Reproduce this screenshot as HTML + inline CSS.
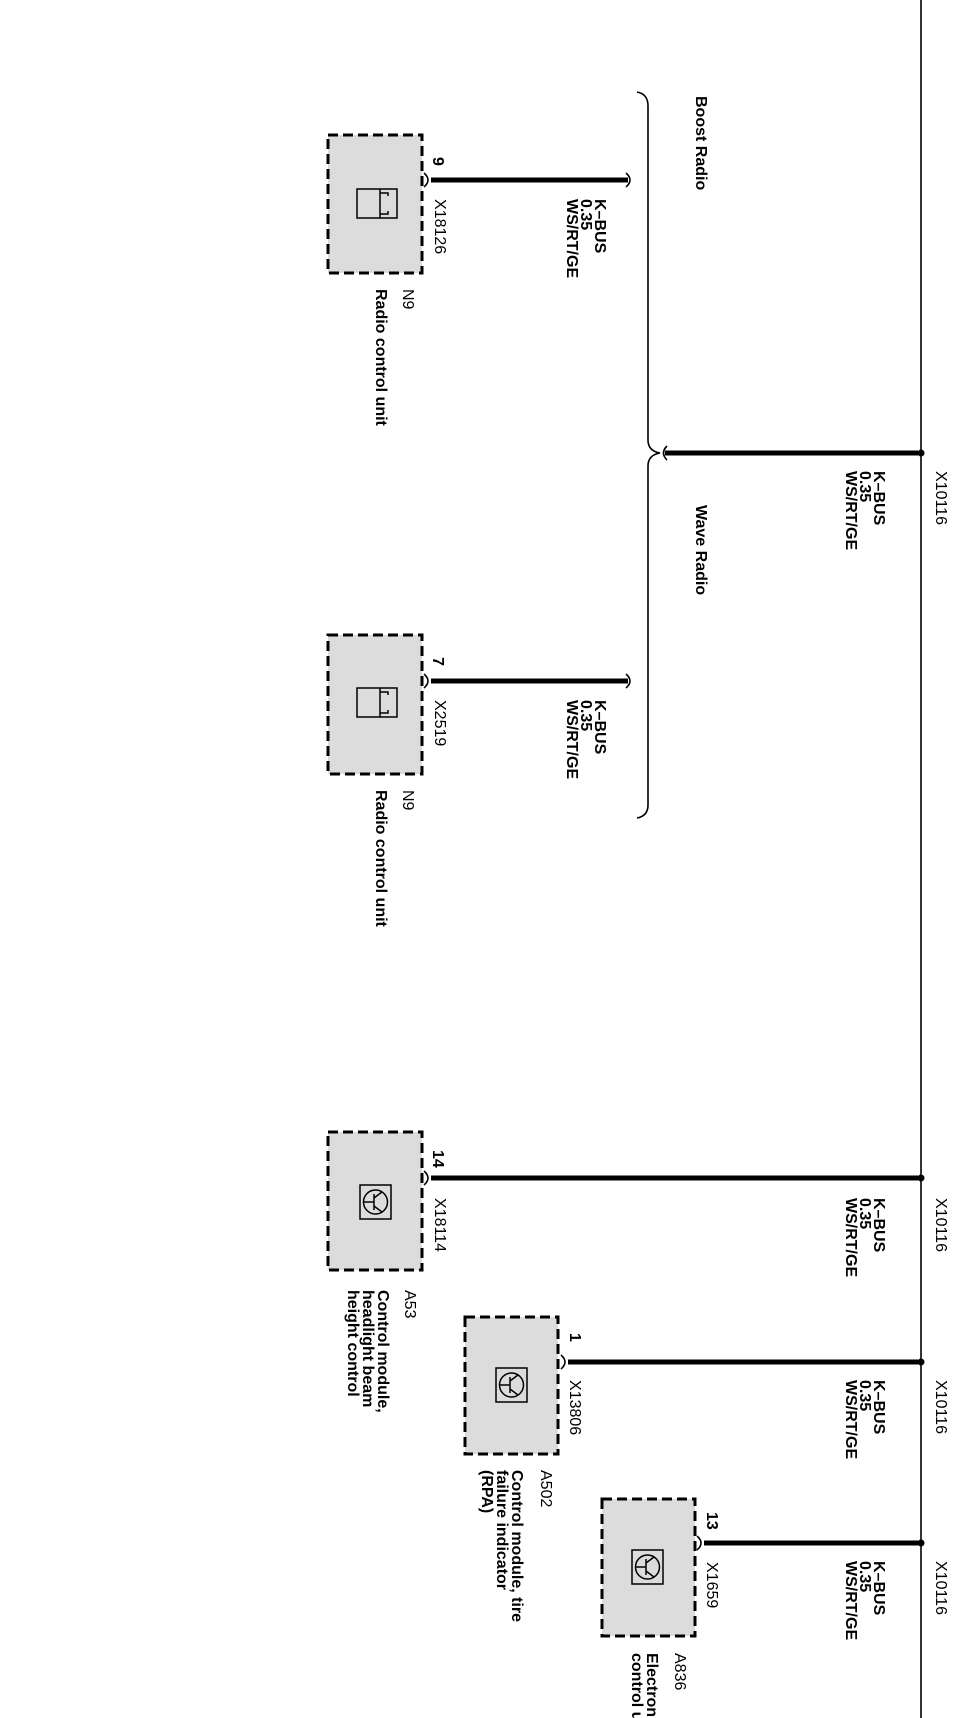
<!DOCTYPE html>
<html><head><meta charset="utf-8"><style>
html,body{margin:0;padding:0;background:#fff;}
svg{display:block;}
text{font-family:"Liberation Sans",Arial,sans-serif;font-size:16px;fill:#000;}
.b{font-weight:bold;}
</style></head><body>
<svg width="962" height="1718" viewBox="0 0 962 1718" xmlns="http://www.w3.org/2000/svg">
<line x1="921" y1="0" x2="921" y2="1718" stroke="#000" stroke-width="1.6"/>
<circle cx="921" cy="453" r="3.5"/>
<circle cx="921" cy="1178" r="3.5"/>
<circle cx="921" cy="1362" r="3.5"/>
<circle cx="921" cy="1543" r="3.5"/>

<path d="M637,92 Q648,94 648,106 L648,440 Q648,451 660,453 Q648,455 648,466 L648,805 Q648,816 637,818" fill="none" stroke="#000" stroke-width="1.6"/>

<g stroke="#000" stroke-width="5" fill="none">
<line x1="665" y1="453" x2="918" y2="453"/>
<line x1="431" y1="180" x2="628" y2="180"/>
<line x1="431" y1="681" x2="628" y2="681"/>
<line x1="431" y1="1178" x2="918" y2="1178"/>
<line x1="568" y1="1362" x2="918" y2="1362"/>
<line x1="704" y1="1543" x2="918" y2="1543"/>
</g>
<g stroke="#000" stroke-width="1.6" fill="none">
<path d="M667,446 Q660,453 667,460"/>
<path d="M626,173 Q634,180 626,187"/>
<path d="M626,674 Q634,681 626,688"/>
<path d="M424,173 Q432,180 424,187"/>
<path d="M424,674 Q432,681 424,688"/>
<path d="M424,1171 Q432,1178 424,1185"/>
<path d="M561,1355 Q569,1362 561,1369"/>
<path d="M697,1536 Q705,1543 697,1550"/>
</g>

<g fill="#dcdcdc" stroke="#000" stroke-width="3" stroke-dasharray="10,5">
<rect x="328" y="135" width="94" height="138"/>
<rect x="328" y="635" width="94" height="139"/>
<rect x="328" y="1132" width="94" height="138"/>
<rect x="465" y="1317" width="93" height="137"/>
<rect x="602" y="1499" width="93" height="137"/>
</g>

<g fill="none" stroke="#000" stroke-width="1.5">
<rect x="357" y="189" width="40" height="29"/>
<line x1="380" y1="189" x2="380" y2="218"/>
<path d="M380,193 L388,193 L388,196 M380,214 L388,214 L388,211"/>
<rect x="357" y="688" width="40" height="29"/>
<line x1="380" y1="688" x2="380" y2="717"/>
<path d="M380,692 L388,692 L388,695 M380,713 L388,713 L388,710"/>
</g>
<g fill="none" stroke="#000" stroke-width="1.5">
<g transform="translate(360,1185)">
<rect x="0" y="0" width="31" height="34"/>
<circle cx="15.5" cy="17" r="12"/>
<line x1="3.5" y1="17" x2="14" y2="17"/><line x1="14" y1="9" x2="14" y2="25"/>
<line x1="14" y1="13" x2="22" y2="7"/><line x1="14" y1="21" x2="22" y2="27"/>
</g>
<g transform="translate(496,1368)">
<rect x="0" y="0" width="31" height="34"/>
<circle cx="15.5" cy="17" r="12"/>
<line x1="3.5" y1="17" x2="14" y2="17"/><line x1="14" y1="9" x2="14" y2="25"/>
<line x1="14" y1="13" x2="22" y2="7"/><line x1="14" y1="21" x2="22" y2="27"/>
</g>
<g transform="translate(632,1550)">
<rect x="0" y="0" width="31" height="34"/>
<circle cx="15.5" cy="17" r="12"/>
<line x1="3.5" y1="17" x2="14" y2="17"/><line x1="14" y1="9" x2="14" y2="25"/>
<line x1="14" y1="13" x2="22" y2="7"/><line x1="14" y1="21" x2="22" y2="27"/>
</g>
</g>

<text transform="translate(936,471) rotate(90)">X10116</text>
<text transform="translate(936,1198) rotate(90)">X10116</text>
<text transform="translate(936,1380) rotate(90)">X10116</text>
<text transform="translate(936,1561) rotate(90)">X10116</text>

<g class="b">
<text transform="translate(874,471) rotate(90)">K–BUS</text>
<text transform="translate(860,471) rotate(90)">0.35</text>
<text transform="translate(846,471) rotate(90)">WS/RT/GE</text>
<text transform="translate(874,1198) rotate(90)">K–BUS</text>
<text transform="translate(860,1198) rotate(90)">0.35</text>
<text transform="translate(846,1198) rotate(90)">WS/RT/GE</text>
<text transform="translate(874,1380) rotate(90)">K–BUS</text>
<text transform="translate(860,1380) rotate(90)">0.35</text>
<text transform="translate(846,1380) rotate(90)">WS/RT/GE</text>
<text transform="translate(874,1561) rotate(90)">K–BUS</text>
<text transform="translate(860,1561) rotate(90)">0.35</text>
<text transform="translate(846,1561) rotate(90)">WS/RT/GE</text>
<text transform="translate(595,199) rotate(90)">K–BUS</text>
<text transform="translate(581,199) rotate(90)">0.35</text>
<text transform="translate(567,199) rotate(90)">WS/RT/GE</text>
<text transform="translate(595,700) rotate(90)">K–BUS</text>
<text transform="translate(581,700) rotate(90)">0.35</text>
<text transform="translate(567,700) rotate(90)">WS/RT/GE</text>

<text transform="translate(696,96) rotate(90)">Boost Radio</text>
<text transform="translate(696,505) rotate(90)">Wave Radio</text>

<text transform="translate(433,157) rotate(90)">9</text>
<text transform="translate(433,657) rotate(90)">7</text>
<text transform="translate(433,1150) rotate(90)">14</text>
<text transform="translate(570,1333) rotate(90)">1</text>
<text transform="translate(707,1512) rotate(90)">13</text>
</g>

<text transform="translate(435,199) rotate(90)">X18126</text>
<text transform="translate(435,700) rotate(90)">X2519</text>
<text transform="translate(435,1198) rotate(90)">X18114</text>
<text transform="translate(570,1380) rotate(90)">X13806</text>
<text transform="translate(707,1562) rotate(90)">X1659</text>

<text transform="translate(403,289) rotate(90)">N9</text>
<text class="b" transform="translate(376,289) rotate(90)">Radio control unit</text>
<text transform="translate(403,790) rotate(90)">N9</text>
<text class="b" transform="translate(376,790) rotate(90)">Radio control unit</text>

<text transform="translate(405,1290) rotate(90)">A53</text>
<text class="b" transform="translate(378,1290) rotate(90)">Control module,</text>
<text class="b" transform="translate(363,1290) rotate(90)">headlight beam</text>
<text class="b" transform="translate(348,1290) rotate(90)">height control</text>

<text transform="translate(541,1470) rotate(90)">A502</text>
<text class="b" transform="translate(512,1470) rotate(90)">Control module, tire</text>
<text class="b" transform="translate(497,1470) rotate(90)">failure indicator</text>
<text class="b" transform="translate(482,1470) rotate(90)">(RPA)</text>

<text transform="translate(675,1653) rotate(90)">A836</text>
<text class="b" transform="translate(647,1653) rotate(90)">Electronic</text>
<text class="b" transform="translate(632,1653) rotate(90)">control unit</text>
</svg>
</body></html>
